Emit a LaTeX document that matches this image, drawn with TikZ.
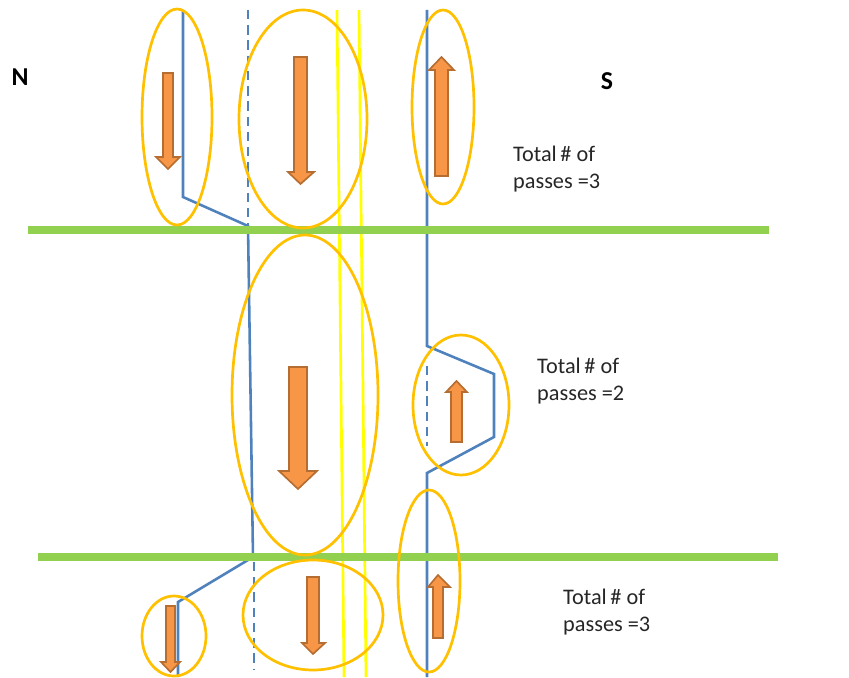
\documentclass[tikz,border=0pt]{standalone}
\usepackage{fontspec}
\setmainfont{Carlito}
\definecolor{pblue}{HTML}{4F81BD}
\definecolor{pgreen}{HTML}{92D050}
\definecolor{pyellow}{HTML}{FFFF00}
\definecolor{pring}{HTML}{FFC000}
\definecolor{pfill}{HTML}{F79646}
\definecolor{pedge}{HTML}{B66D31}
\newcommand{\barrow}[7]{\draw[blockarrow] (#1,#3) -- (#2,#3) -- (#2,#6) -- (#5,#6) -- ({(#1+#2)/2},#7) -- (#4,#6) -- (#1,#6) -- cycle;}
\tikzset{
  road/.style={pgreen, line width=6pt},
  lane/.style={pyellow, line width=2.3pt},
  track/.style={pblue, line width=2.2pt},
  dtrack/.style={pblue, line width=2.2pt, dash pattern=on 8pt off 5pt},
  ring/.style={pring, line width=2.3pt},
  blockarrow/.style={fill=pfill, draw=pedge, line width=1.4pt, line join=miter},
  lbl/.style={font=\fontsize{19}{23}\selectfont, align=left, anchor=north west, inner sep=0pt, text=black!85},
  dir/.style={font=\fontsize{22}{24}\selectfont\bfseries, inner sep=0pt}
}
\begin{document}
\begin{tikzpicture}[x=0.03cm, y=-0.03cm]
\useasboundingbox (0,0) rectangle (849,677);
\clip (0,0) rectangle (849,677);
% yellow lane lines
\draw[lane] (337,10) -- (344,677);
\draw[lane] (359,10) -- (366,677);
% blue tracks
\draw[track, line join=miter] (183,10) -- (183,197) -- (248,226) -- (253,557) -- (178,602) -- (178,677);
\draw[dtrack] (248,10) -- (248,226);
\draw[dtrack] (254,562) -- (254,670);
\draw[track] (427,10) -- (427,346) -- (494,374) -- (494,437) -- (427,473) -- (427,677);
\draw[dtrack] (427,366) -- (427,446);
% green roads
\draw[road] (28,230) -- (769,230);
\draw[road] (38,557) -- (778,557);
% ellipses
\draw[ring] (177,117) ellipse [x radius=35, y radius=108];
\draw[ring] (303,119) ellipse [x radius=64, y radius=109];
\draw[ring] (443,107) ellipse [x radius=31, y radius=97];
\draw[ring] (305,395) ellipse [x radius=73, y radius=160];
\draw[ring] (461,405) ellipse [x radius=48, y radius=70];
\draw[ring] (429,581) ellipse [x radius=31, y radius=91];
\draw[ring] (313,615) ellipse [x radius=70, y radius=55];
\draw[ring] (174,636) ellipse [x radius=32, y radius=40];
% block arrows
\barrow{163}{173}{73}{156}{180}{157}{169}
\barrow{294}{307}{57}{288}{314}{172}{184}
\barrow{435}{448}{176}{429}{454}{70}{57}
\barrow{289}{307}{367}{279}{317}{471}{489}
\barrow{451}{462}{442}{446}{467}{392}{381}
\barrow{307}{319}{577}{302}{325}{643}{654}
\barrow{433}{443}{638}{428}{450}{587}{575}
\barrow{166}{175}{606}{161}{180}{662}{672}
% labels
\node[dir] (n) at (20,77) {N};
\node[dir] (s) at (607,81) {S};
\node[lbl] (t1) at (513,146) {Total\,\# of\\passes =3};
\node[lbl] (t2) at (537,358) {Total\,\# of\\passes =2};
\node[lbl] (t3) at (563,589) {Total\,\# of\\passes =3};
\end{tikzpicture}
\end{document}
